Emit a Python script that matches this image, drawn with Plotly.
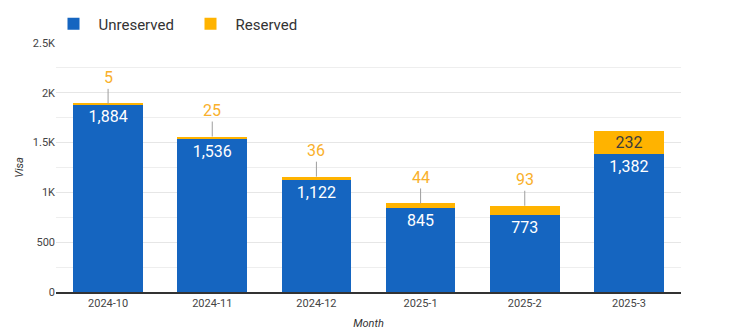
import plotly.graph_objects as go

months = ["2024-10", "2024-11", "2024-12", "2025-1", "2025-2", "2025-3"]
unreserved = [1884, 1536, 1122, 845, 773, 1382]
reserved = [5, 25, 36, 44, 93, 232]

BLUE = "#1565C0"
AMBER = "#FFB300"

fig = go.Figure()
fig.add_trace(go.Bar(
    x=months, y=unreserved, name="Unreserved", marker_color=BLUE,
    marker_line_width=0,
    text=[f"{v:,}" for v in unreserved], textposition="inside",
    insidetextanchor="end", textfont=dict(color="white", size=16, family="Roboto"),
    textangle=0, constraintext="none",
))
inside_txt = [f"{v:,}" if v >= 150 else "" for v in reserved]
fig.add_trace(go.Bar(
    x=months, y=reserved, name="Reserved", marker_color=AMBER,
    marker_line=dict(color="white", width=0),
    text=inside_txt, textposition="inside", insidetextanchor="middle",
    textfont=dict(color="#3c3c3c", size=16, family="Roboto"), textangle=0,
    constraintext="none",
))

for m, u, r in zip(months, unreserved, reserved):
    if r < 150:
        fig.add_annotation(
            x=m, y=u + r, text=str(r), showarrow=True, arrowhead=0,
            arrowwidth=1, arrowcolor="#9e9e9e", ax=0, ay=-26,
            font=dict(color="#F9B02B", size=16, family="Roboto"),
        )

fig.update_layout(
    barmode="stack", bargap=0.33,
    width=754, height=334,
    margin=dict(l=56, r=73, t=43, b=42, autoexpand=False),
    paper_bgcolor="white", plot_bgcolor="white",
    font=dict(family="Roboto", color="#333333", size=11),
    legend=dict(orientation="h", x=-0.012, xanchor="left", y=1.01, yanchor="bottom",
                font=dict(size=15, color="#333333"), entrywidth=82,
                bgcolor="rgba(0,0,0,0)",
                itemwidth=40, traceorder="normal"),
    showlegend=True,
    uniformtext=dict(mode=False),
)
fig.update_yaxes(
    range=[0, 2500], tickvals=[0, 500, 1000, 1500, 2000, 2500],
    ticktext=["0", "500", "1K", "1.5K", "2K", "2.5K"],
    showgrid=True, gridcolor="#e6e6e6", gridwidth=1,
    minor=dict(dtick=250, showgrid=True, gridcolor="#eeeeee"),
    zeroline=False, showline=False, ticks="", automargin=False,
    title=dict(text="<i>Visa</i>", font=dict(size=11, color="#333333"), standoff=6),
    tickfont=dict(size=11, color="#444444"),
)
fig.update_xaxes(
    type="category", automargin=False,
    showline=True, linecolor="#333333", linewidth=1.5, ticks="",
    title=dict(text="<i>Month</i>", font=dict(size=11, color="#333333"), standoff=10),
    tickfont=dict(size=11, color="#444444"),
)

fig.write_html("out.html")
